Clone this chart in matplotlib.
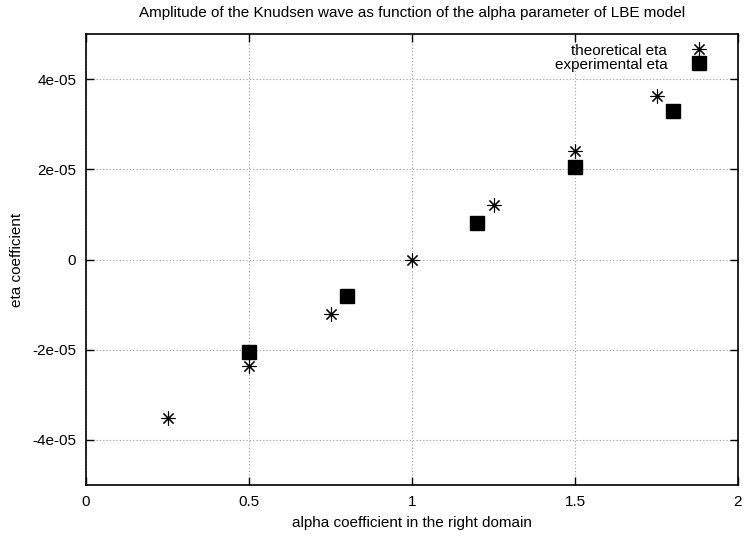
import matplotlib
matplotlib.use("Agg")
import matplotlib.pyplot as plt

# theoretical and measured eta vs alpha
alpha_theory = [0.25, 0.5, 0.75, 1.0, 1.25, 1.5, 1.75]
eta_theory = [-3.51e-05, -2.36e-05, -1.20e-05, 0.0, 1.20e-05, 2.40e-05, 3.63e-05]
alpha_exp = [0.5, 0.8, 1.2, 1.5, 1.8]
eta_exp = [-2.06e-05, -8.2e-06, 8.0e-06, 2.04e-05, 3.29e-05]

xticks = [0, 0.5, 1, 1.5, 2]
xticklabels = ["0", "0.5", "1", "1.5", "2"]
yticks = [-4e-05, -2e-05, 0, 2e-05, 4e-05]
yticklabels = ["-4e-05", "-2e-05", "0", "2e-05", "4e-05"]

plt.rcParams["font.family"] = ["Liberation Sans", "DejaVu Sans"]

fig = plt.figure(figsize=(7.47, 5.37), dpi=100)
ax = fig.add_axes([86 / 747, 1 - 485 / 537, 652 / 747, 451 / 537])

ax.plot(alpha_theory, eta_theory, linestyle="none", marker=(8, 2, 0),
        markersize=10, markeredgewidth=0.8, color="black", label="theoretical eta")
ax.plot(alpha_exp, eta_exp, linestyle="none", marker="s",
        markersize=9.5, color="black", label="experimental eta")

ax.set_xlim(0, 2)
ax.set_ylim(-5e-05, 5e-05)
ax.set_xticks(xticks)
ax.set_xticklabels(xticklabels)
ax.set_yticks(yticks)
ax.set_yticklabels(yticklabels)
ax.tick_params(direction="in", length=6, width=1, labelsize=11,
               top=True, right=True, pad=7)
ax.grid(True, linestyle=(0, (1, 2)), color="#999999", linewidth=0.8)
for s in ax.spines.values():
    s.set_linewidth(1.2)

ax.set_xlabel("alpha coefficient in the right domain", fontsize=11, labelpad=5)
ax.set_ylabel("eta coefficient", fontsize=11, labelpad=6)
ax.set_title("Amplitude of the Knudsen wave as function of the alpha parameter of LBE model",
             fontsize=11, pad=12)

ax.legend(loc="upper right", bbox_to_anchor=(0.963, 0.992), frameon=False,
          markerfirst=False, fontsize=11, handletextpad=1.45, labelspacing=0.0,
          borderaxespad=0.0, handlelength=1.2)

fig.savefig("out.png", dpi=100)
